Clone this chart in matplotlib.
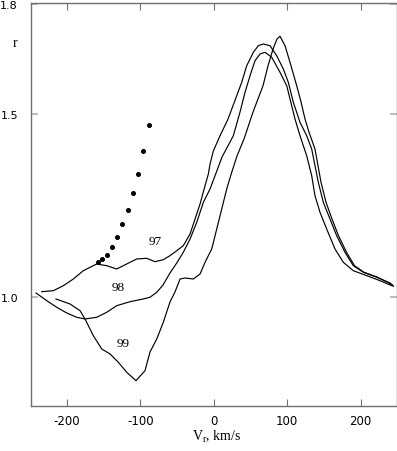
import matplotlib
matplotlib.use("Agg")
import matplotlib.pyplot as plt

plt.rcParams['axes.unicode_minus'] = False
plt.rcParams['mathtext.fontset'] = 'custom'
plt.rcParams['mathtext.rm'] = 'Liberation Serif'
plt.rcParams['mathtext.it'] = 'Liberation Serif:italic'

# profile 97
v97 = [-234.0, -218.2, -204.6, -191.0, -177.4, -159.2, -145.6, -132.0, -118.4, -104.8,
       -91.2, -79.9, -68.6, -59.5, -50.3, -41.4, -32.2, -25.4, -18.6, -11.8, -7.3, -5.0,
       -0.5, 8.6, 19.5, 31.3, 38.1, 44.9, 53.9, 60.7, 67.5, 76.6, 85.7, 94.7, 101.5,
       108.3, 117.4, 126.5, 133.3, 137.8, 142.3, 149.1, 158.2, 167.3, 178.6, 189.9,
       203.5, 221.8, 239.9, 243.9]
r97 = [1.0137, 1.0164, 1.0301, 1.0484, 1.0712, 1.0895, 1.0848, 1.0758, 1.0895, 1.1032,
       1.1051, 1.0958, 1.1013, 1.1122, 1.1259, 1.1396, 1.1716, 1.2127, 1.2537, 1.3038,
       1.3358, 1.3632, 1.3988, 1.4406, 1.4863, 1.5501, 1.5868, 1.6322, 1.6689, 1.6870,
       1.6916, 1.6870, 1.6596, 1.6232, 1.5868, 1.5321, 1.4773, 1.4406, 1.4042, 1.3585,
       1.3131, 1.2584, 1.2127, 1.1670, 1.1215, 1.0848, 1.0668, 1.0531, 1.0375, 1.0307]

# profile 98
v98 = [-241.8, -227.2, -213.6, -200.0, -186.4, -175.1, -159.2, -145.6, -132.0, -113.9,
       -95.8, -86.7, -77.5, -69.0, -59.5, -50.3, -41.4, -32.2, -23.1, -14.1, -5.0, 1.8,
       11.3, 26.7, 35.8, 42.6, 49.4, 56.2, 63.0, 69.8, 78.9, 90.2, 99.3, 103.8, 110.6,
       117.4, 121.9, 126.5, 133.3, 137.8, 144.6, 153.7, 165.0, 176.3, 189.9, 208.2,
       226.3, 242.2]
r98 = [1.0101, 0.9891, 0.9710, 0.9554, 0.9436, 0.9390, 0.9436, 0.9573, 0.9754, 0.9863,
       0.9937, 0.9984, 1.0120, 1.0320, 1.0649, 1.0922, 1.1215, 1.1579, 1.2036, 1.2584,
       1.2948, 1.3312, 1.3823, 1.4406, 1.5055, 1.5594, 1.6049, 1.6459, 1.6643, 1.6689,
       1.6552, 1.6142, 1.5775, 1.5411, 1.4863, 1.4406, 1.4133, 1.3859, 1.3312, 1.2764,
       1.2310, 1.1853, 1.1306, 1.0941, 1.0712, 1.0575, 1.0438, 1.0301]

# profile 99
v99 = [-214.6, -195.5, -181.9, -175.1, -163.8, -152.4, -141.1, -129.8, -118.4, -105.7,
       -93.5, -86.7, -77.5, -68.6, -59.5, -52.7, -45.8, -39.0, -27.8, -18.6, -11.8, -2.7,
       4.1, 10.9, 17.7, 24.5, 31.7, 41.2, 53.5, 67.1, 73.9, 80.7, 86.1, 90.2, 97.0,
       103.8, 112.9, 118.8, 124.2, 129.7, 137.8, 141.9, 146.0, 152.8, 160.9, 169.8,
       180.7, 191.6, 204.5, 222.2, 239.9, 244.3]
r99 = [0.9937, 0.9800, 0.9617, 0.9390, 0.8933, 0.8569, 0.8432, 0.8205, 0.7931, 0.7701,
       0.7975, 0.8486, 0.8842, 0.9299, 0.9855, 1.0129, 1.0484, 1.0512, 1.0484, 1.0621,
       1.0941, 1.1306, 1.1853, 1.2400, 1.2948, 1.3405, 1.3851, 1.4316, 1.5055, 1.5775,
       1.6322, 1.6779, 1.7053, 1.7127, 1.6870, 1.6415, 1.5775, 1.5329, 1.4863, 1.4499,
       1.4042, 1.3585, 1.3131, 1.2584, 1.2127, 1.1670, 1.1215, 1.0848, 1.0668, 1.0539,
       1.0361, 1.0285]

# dotted track
v_dots = [-88.0, -96.2, -103.0, -110.2, -117.0, -124.3, -131.6, -138.8, -145.6, -151.6, -157.4]
r_dots = [1.4708, 1.3988, 1.3358, 1.2846, 1.2381, 1.1990, 1.1642, 1.1352, 1.1150, 1.1032, 1.0941]

labels = ['97', '98', '99']
label_v = [-79.8, -129.8, -123.0]
label_r = [1.153, 1.026, 0.872]

xticks = [-200, -100, 0, 100, 200]
yticks = [1.0, 1.5, 1.8]

fig = plt.figure(figsize=(3.97, 4.52), dpi=100)
ax = fig.add_axes([30.5 / 397, 1 - 407 / 452, 366 / 397, (407 - 4.3) / 452])

for v, r in [(v97, r97), (v98, r98), (v99, r99)]:
    ax.plot(v, r, color='black', lw=0.85)
ax.plot(v_dots, r_dots, 'o', color='black', ms=2.6)

for t, x, y in zip(labels, label_v, label_r):
    ax.text(x, y, t, ha='center', va='center', fontsize=9.5, family='Liberation Serif')

ax.set_xlim(-249.3, 248.7)
ax.set_ylim(0.7008, 1.803)
ax.set_xticks(xticks)
ax.set_xticklabels([str(t) for t in xticks])
ax.set_yticks(yticks)
ax.set_yticklabels(['1.0', '1.5', '1.8'])

for s in ax.spines.values():
    s.set_color('#707070')
    s.set_linewidth(1.0)

ax.tick_params(axis='x', direction='in', top=True, length=5, width=0.8,
               color='#707070', labelsize=8.5, pad=6)
ax.tick_params(axis='y', direction='in', right=True, length=5, width=1.2,
               color='#b0b0b0', labelsize=8, pad=9)
for lab in ax.get_xticklabels() + ax.get_yticklabels():
    lab.set_family('DejaVu Sans')

ax.text(-270, 1.697, 'r', ha='center', va='center', fontsize=10,
        family='Liberation Serif', clip_on=False)
fig.text(217 / 397, 1 - 437 / 452, r'V$_{\rm r}$, km/s', ha='center', va='center',
         fontsize=10, family='Liberation Serif')

fig.savefig('out.png', dpi=100)
